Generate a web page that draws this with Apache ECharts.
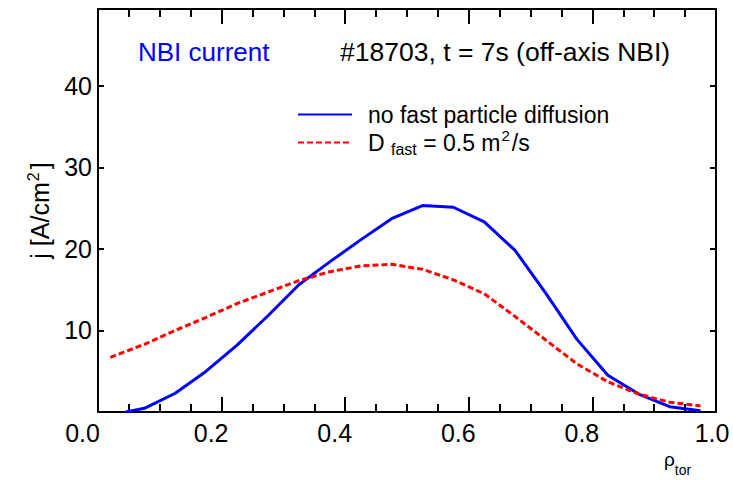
<!DOCTYPE html>
<html>
<head>
<meta charset="utf-8">
<script src="https://cdn.jsdelivr.net/npm/echarts@6/dist/echarts.min.js"></script>
<style>
  html, body { margin: 0; padding: 0; background: #fff; }
  #chart { width: 733px; height: 480px; }
</style>
</head>
<body>
<div id="chart"></div>
<script>
// rho_tor grid and current density j [A/cm^2]
const rhoNoDiff = [0.045, 0.075, 0.125, 0.175, 0.225, 0.275, 0.325, 0.375, 0.425, 0.475,
  0.525, 0.575, 0.625, 0.675, 0.725, 0.775, 0.825, 0.875, 0.925, 0.975]
const jNoDiff = [0, 0.45, 2.3, 5.0, 8.2, 11.8, 15.6, 18.4, 21.1, 23.7,
  25.3, 25.1, 23.3, 19.8, 14.5, 8.9, 4.5, 2.2, 0.65, 0.15]

const rhoDiff = [0.02, 0.075, 0.125, 0.175, 0.225, 0.275, 0.325, 0.375, 0.425, 0.475,
  0.525, 0.575, 0.625, 0.675, 0.725, 0.775, 0.825, 0.875, 0.925, 0.975]
const jDiff = [6.7, 8.3, 10.0, 11.6, 13.3, 14.7, 16.1, 17.2, 17.9, 18.1,
  17.5, 16.2, 14.5, 11.7, 8.8, 5.9, 3.7, 2.2, 1.2, 0.75]

const seriesNames = ['nodiff', 'diff']
const xRange = [0, 1]
const xStep = 0.2
const yRange = [0, 49.4]
const yStep = 10

const FONT = '"Liberation Sans", Arial, sans-serif'
const black = '#000'

// svg renderer: the canvas one lost the x ticks in the screenshot
const chart = echarts.init(document.getElementById('chart'), null, { renderer: 'svg' })

const pairs = (xs, ys) => xs.map((x, i) => [x, ys[i]])

const makeX = (position, labels) => ({
  type: 'value', position,
  min: xRange[0], max: xRange[1], interval: xStep,
  axisLine: { show: true, onZero: false, lineStyle: { color: black, width: 2 } },
  axisTick: { show: true, inside: true, length: 15, lineStyle: { color: black, width: 2 } },
  minorTick: { show: true, splitNumber: 4, length: 8, lineStyle: { color: black, width: 2 } },
  splitLine: { show: false },
  axisLabel: labels ? {
    color: black, fontSize: 25, fontFamily: FONT, margin: 8,
    formatter: v => (v === 0 ? '{f|' : v === 1 ? '{l|' : '{m|') + v.toFixed(1) + '}',
    rich: {
      f: { fontSize: 25, fontFamily: FONT, color: black, padding: [0, 31, 0, 0] },
      m: { fontSize: 25, fontFamily: FONT, color: black, padding: [0, 21, 0, 0] },
      l: { fontSize: 25, fontFamily: FONT, color: black, padding: [0, 8, 0, 0] }
    }
  } : { show: false }
})
const makeY = (position, labels) => ({
  type: 'value', position,
  min: yRange[0], max: yRange[1], interval: yStep,
  axisLine: { show: true, onZero: false, lineStyle: { color: black, width: 2 } },
  axisTick: { show: true, inside: true, length: 6, lineStyle: { color: black, width: 2 } },
  splitLine: { show: false },
  axisLabel: labels ? {
    color: black, fontSize: 25, fontFamily: FONT, margin: 6,
    formatter: v => (v > 0 && v % yStep === 0) ? String(v) : ''
  } : { show: false }
})

const yLeft = makeY('left', true)
yLeft.name = '{n|j [A/cm}{sup|2}{n|]}'
yLeft.nameLocation = 'middle'
yLeft.nameGap = 43
yLeft.nameRotate = 90
yLeft.nameTextStyle = {
  rich: {
    n: { fontSize: 25, fontFamily: FONT, color: black },
    sup: { fontSize: 16, fontFamily: FONT, color: black, padding: [0, 3, 14, 1] }
  }
}

chart.setOption({
  animation: false,
  backgroundColor: '#fff',
  grid: { left: 98, right: 17, top: 9, bottom: 68 },
  xAxis: [makeX('bottom', true), makeX('top', false)],
  yAxis: [yLeft, makeY('right', false)],
  legend: {
    orient: 'vertical',
    left: 297, top: 103, padding: 0,
    itemWidth: 54, itemHeight: 14, itemGap: 2,
    data: seriesNames,
    itemStyle: { opacity: 0 },
    formatter: name => name === 'nodiff'
      ? '{t|no fast particle diffusion}'
      : '{t|D }{sub|fast}{t| = 0.5 m}{sup|2}{t|/s}',
    textStyle: {
      padding: [0, 0, 0, 11],
      rich: {
        t: { fontSize: 23, fontFamily: FONT, color: black },
        sub: { fontSize: 16, fontFamily: FONT, color: black, padding: [14, 0, 0, 0] },
        sup: { fontSize: 15, fontFamily: FONT, color: black, padding: [0, 2, 14, 1] }
      }
    }
  },
  graphic: [
    { type: 'text', x: 138, y: 52, style: { text: 'NBI current', fill: '#0000ff',
      font: '26px ' + FONT, verticalAlign: 'middle' } },
    { type: 'text', x: 340, y: 52, style: { text: '#18703, t = 7s (off-axis NBI)', fill: black,
      font: '26.5px ' + FONT, verticalAlign: 'middle' } },
    { type: 'text', x: 664, y: 461, style: {
      text: '{r|ρ}{s|tor}',
      verticalAlign: 'middle',
      rich: {
        r: { fontSize: 19, fontFamily: FONT, fill: black, padding: [0, 0, 4, 0] },
        s: { fontSize: 14, fontFamily: FONT, fill: black, padding: [18, 0, 0, 0] }
      }
    } }
  ],
  series: [
    {
      name: 'nodiff', type: 'line', xAxisIndex: 0, yAxisIndex: 0,
      data: pairs(rhoNoDiff, jNoDiff),
      symbol: 'none', clip: true,
      lineStyle: { color: '#0000ff', width: 3 },
      itemStyle: { color: '#0000ff' }
    },
    {
      name: 'diff', type: 'line', xAxisIndex: 0, yAxisIndex: 0,
      data: pairs(rhoDiff, jDiff),
      symbol: 'none', clip: true,
      lineStyle: { color: '#ff0000', width: 3, type: [6, 3] },
      itemStyle: { color: '#ff0000' }
    }
  ]
})
</script>
</body>
</html>
